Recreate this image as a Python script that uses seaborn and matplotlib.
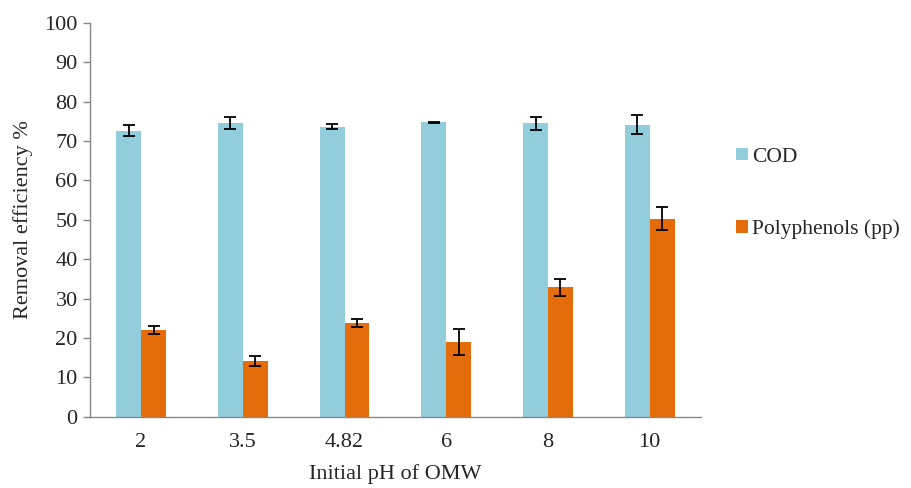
import pandas as pd
import numpy as np
import seaborn as sns
import matplotlib.pyplot as plt

# valores
ph = ["2", "3.5", "4.82", "6", "8", "10"]
cod = [72.6, 74.6, 73.7, 74.8, 74.5, 74.2]
cod_err = [1.4, 1.6, 0.7, 0.15, 1.6, 2.5]
pp = [22.0, 14.2, 23.9, 18.9, 32.9, 50.3]
pp_err = [1.1, 1.2, 1.0, 3.3, 2.2, 2.9]

dados = pd.DataFrame({
    "pH": ph * 2,
    "valor": cod + pp,
    "erro": cod_err + pp_err,
    "serie": ["COD"] * len(ph) + ["Polyphenols (pp)"] * len(ph),
})

sns.set_style("white")
plt.rcParams["font.family"] = ["Liberation Serif", "DejaVu Serif"]

fig = plt.figure(figsize=(9.11, 4.88), dpi=100)
ax = fig.add_axes([0.099, 0.146, 0.670, 0.807])

cores = {"COD": "#92CDDC", "Polyphenols (pp)": "#E46C0A"}
sns.barplot(data=dados, x="pH", y="valor", hue="serie", order=ph,
            palette=cores, width=0.49, errorbar=None, saturation=1,
            linewidth=0, ax=ax)

# barras de erro nas posições dos retângulos
for serie, cont in zip(cores, ax.containers):
    sub = dados[dados["serie"] == serie]
    xs = [b.get_x() + b.get_width() / 2 for b in cont]
    ax.errorbar(xs, sub["valor"], yerr=sub["erro"], fmt="none",
                ecolor="black", elinewidth=1.3, capsize=4, capthick=1.3)

ax.set_ylim(0, 100)
ax.set_yticks(range(0, 101, 10))
ax.set_xlim(-0.5, len(ph) - 0.5)
ax.set_xlabel("Initial pH of OMW", fontsize=16, labelpad=9)
ax.set_ylabel("Removal efficiency %", fontsize=16, labelpad=8)
ax.tick_params(axis="y", which="major", left=True, length=5, width=1,
               color="#888888", labelsize=16, pad=4)
ax.tick_params(axis="x", bottom=False, labelsize=16, pad=8)
sns.despine(ax=ax)
for s in ["left", "bottom"]:
    ax.spines[s].set_color("#888888")
    ax.spines[s].set_linewidth(1)

h, l = ax.get_legend_handles_labels()
ax.get_legend().remove()
fig.legend(h, l, loc="upper left", bbox_to_anchor=(0.789, 0.733),
           frameon=False, fontsize=15.5, handlelength=0.55, handleheight=0.55,
           handletextpad=0.2, labelspacing=2.45, borderpad=0.3)

fig.savefig("out.png", dpi=100)
